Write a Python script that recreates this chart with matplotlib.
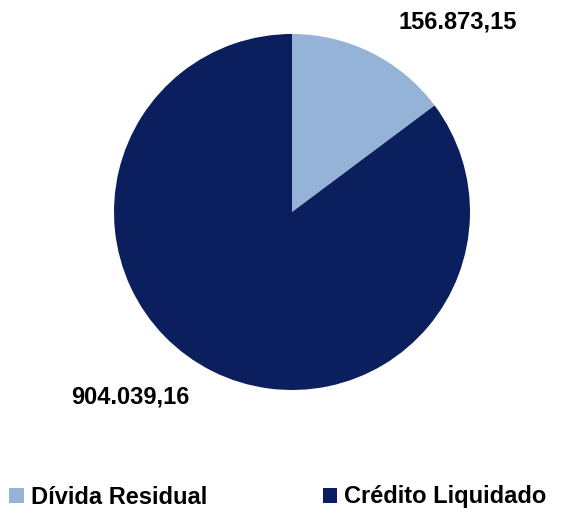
import matplotlib
matplotlib.use("Agg")
import matplotlib.pyplot as plt
from matplotlib.patches import Patch

categories = ["Dívida Residual", "Crédito Liquidado"]
values = [156873.15, 904039.16]
value_labels = ["156.873,15", "904.039,16"]
colors = ["#95B3D7", "#0B1F5E"]

plt.rcParams['font.family'] = ['Liberation Sans', 'DejaVu Sans']

W, H = 569, 516
fig = plt.figure(figsize=(W / 100, H / 100), dpi=100)
cx, cy, r = 292, 212, 178
ax = fig.add_axes([(cx - r) / W, (H - cy - r) / H, 2 * r / W, 2 * r / H])
wedges, _ = ax.pie(values, colors=colors, startangle=90, counterclock=False,
                   radius=1.0, wedgeprops=dict(linewidth=0))
ax.set_xlim(-1, 1)
ax.set_ylim(-1, 1)
ax.set_aspect('equal')
ax.axis('off')

label_pos = [(0.93, 1.068), (-0.91, -1.04)]
for (x, y), t in zip(label_pos, value_labels):
    ax.text(x, y, t, ha='center', va='center', fontsize=17, fontweight='bold',
            color='black', clip_on=False)

handles = [Patch(facecolor=c, edgecolor='none') for c in colors]
fig.legend(handles, categories, loc='center left', bbox_to_anchor=(0.0, 1 - 497 / H),
           ncol=2, frameon=False, prop={'weight': 'bold', 'size': 17},
           handlelength=0.6, handleheight=0.6, handletextpad=0.3, columnspacing=4.9,
           borderaxespad=0.0)

fig.savefig("out.png", dpi=100)
